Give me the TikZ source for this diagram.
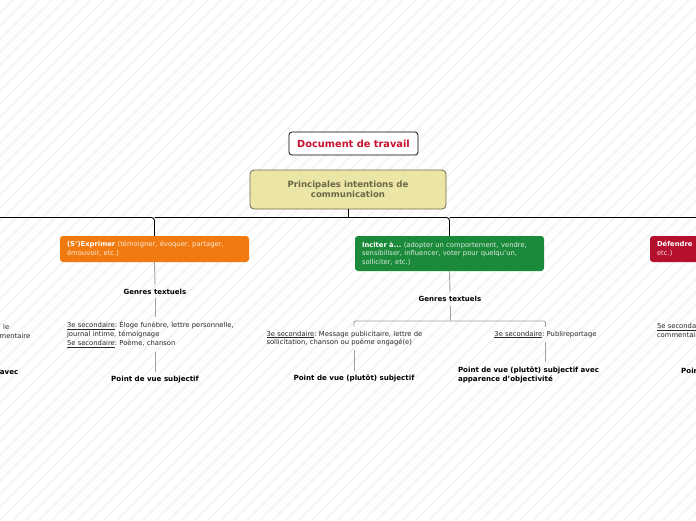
\documentclass[tikz,border=0pt]{standalone}
\usepackage{fontspec}
\setmainfont{DejaVu Sans}
\frenchspacing
\definecolor{stripe}{RGB}{243,243,243}
\definecolor{docred}{RGB}{200,16,46}
\definecolor{khaki}{RGB}{235,229,166}
\definecolor{khakiline}{RGB}{110,106,78}
\definecolor{khakitext}{RGB}{107,104,70}
\definecolor{oboxc}{RGB}{240,122,16}
\definecolor{gboxc}{RGB}{27,138,58}
\definecolor{rboxc}{RGB}{181,16,46}
\definecolor{txt}{RGB}{40,40,40}
\definecolor{conn}{RGB}{160,160,160}
\tikzset{
  small/.style={font=\fontsize{6.8}{8.7}\selectfont},
  colbox/.style={small, text=white, align=left, text width=175pt, inner xsep=7pt, inner ysep=2pt, rounded corners=3pt},
  glabel/.style={font=\fontsize{7.0}{8.7}\selectfont\bfseries, text=black, inner sep=4pt},
  gtext/.style={small, text=txt, align=left, inner sep=4pt},
  pov/.style={font=\fontsize{7.1}{8.9}\selectfont\bfseries, text=black, align=left, inner sep=4pt},
  bus/.style={draw=black, line width=0.9pt},
  link/.style={draw=conn, line width=0.9pt},
}
\newcommand{\ul}[1]{\underline{#1}}
\newcommand{\oneline}[1]{\mbox{#1}}
\begin{document}
\begin{tikzpicture}[x=1pt,y=-1pt]
\useasboundingbox (0,0) rectangle (696,520);
\begin{scope}
\clip (0,0) rectangle (696,520);
\fill[white] (0,0) rectangle (696,520);
\foreach \i in {-520,-507,...,700} {
  \draw[stripe, line width=1.6pt] (\i,520) -- (\i+520,0);
}

% title
\node[draw=black, line width=0.7pt, fill=white, rounded corners=3pt, minimum width=129pt, minimum height=23pt,
      text=docred, font=\fontsize{9.8}{11}\selectfont\bfseries] (doc) at (353.5,143.5) {Document de travail};
\node[draw=khakiline, line width=0.8pt, fill=khaki, rounded corners=4pt, minimum width=196pt, minimum height=39pt,
      text=khakitext, align=center, font=\fontsize{8.6}{10.5}\selectfont\bfseries] (root) at (348,189.5)
      {Principales intentions de\\communication};

% main branches
\node[colbox, fill=oboxc, minimum height=26pt] (obox) at (154.5,249)
  {\oneline{\textbf{(S')Exprimer} \textcolor{white!85!oboxc}{(témoigner, évoquer, partager,}}\\
   \oneline{\textcolor{white!85!oboxc}{émouvoir, etc.)}}};
\node[colbox, fill=gboxc, minimum height=35pt] (gbox) at (449.5,253.5)
  {\oneline{\textbf{Inciter à...} \textcolor{white!85!gboxc}{(adopter un comportement, vendre,}}\\
   \oneline{\textcolor{white!85!gboxc}{sensibiliser, influencer, voter pour quelqu'un,}}\\
   \oneline{\textcolor{white!85!gboxc}{solliciter, etc.)}}};
\node[colbox, fill=rboxc, minimum height=26pt] (rbox) at (744.5,249)
  {\oneline{\textbf{Défendre}}\\\oneline{\textcolor{white!85!rboxc}{etc.)}}};

% bus
\coordinate (busL) at (-5,217.5);
\coordinate (busR) at (705,217.5);
\draw[bus] (root.south) -- (root.south |- busL);
\draw[bus, rounded corners=3pt] (busL) -| (obox.north);
\draw[bus, rounded corners=3pt] (obox.north |- busL) -| (gbox.north);
\draw[bus, rounded corners=3pt] (gbox.north |- busL) -| (rbox.north);
\draw[bus] (rbox.north |- busL) -- (busR);

% orange branch
\node[glabel] (og) at (155,291.5) {Genres textuels};
\node[gtext, text width=175pt] (ot) at (154.5,334.5)
  {\oneline{\ul{3e secondaire}: Éloge funèbre, lettre personnelle,}\\
   \oneline{journal intime, témoignage}\\
   \oneline{\ul{5e secondaire}: Poème, chanson}};
\node[pov] (op) at (155,379.5) {Point de vue subjectif};
\draw[link] (obox.south) -- (og.north);
\draw[link] (og.south) -- (ot.north -| og.south);
\draw[link] (ot.south -| op.north) -- (op.north);

% green branch
\node[glabel] (gg) at (450,299) {Genres textuels};
\coordinate (gbus) at (450,321);
\node[gtext, text width=175pt] (gt1) at (354,338.5)
  {\oneline{\ul{3e secondaire}: Message publicitaire, lettre de}\\
   \oneline{sollicitation, chanson ou poème engagé(e)}};
\node[gtext] (gt2) at (545.5,334.5) {\ul{3e secondaire}: Publireportage};
\node[pov] (gp1) at (354,378.5) {Point de vue (plutôt) subjectif};
\node[pov, text width=175pt] (gp2) at (545.5,374.5)
  {\oneline{Point de vue (plutôt) subjectif avec}\\\oneline{apparence d'objectivité}};
\draw[link] (gbox.south) -- (gg.north);
\draw[link] (gg.south) -- (gbus);
\draw[link, rounded corners=2pt] (gbus) -| (gt1.north);
\draw[link, rounded corners=2pt] (gbus) -| (gt2.north);
\draw[link] (gt1.south) -- (gp1.north);
\draw[link] (gt2.south) -- (gp2.north -| gt2.south);

% right partial branch
\node[gtext, text width=175pt] (rt) at (744.5,330.5)
  {\oneline{\ul{5e secondaire}:}\\\oneline{commentaire}};
\node[pov, anchor=west, inner sep=0pt] (rp) at (681,370.5) {Point};

% left partial branch
\node[gtext, anchor=east, inner sep=0pt] (lt1) at (9.5,326.5) {le};
\node[gtext, anchor=east, inner sep=0pt] (lt2) at (30.5,335.5) {mentaire};
\node[pov, anchor=east, inner sep=0pt] (lp) at (18.5,372.5) {avec};
\end{scope}
\end{tikzpicture}
\end{document}
